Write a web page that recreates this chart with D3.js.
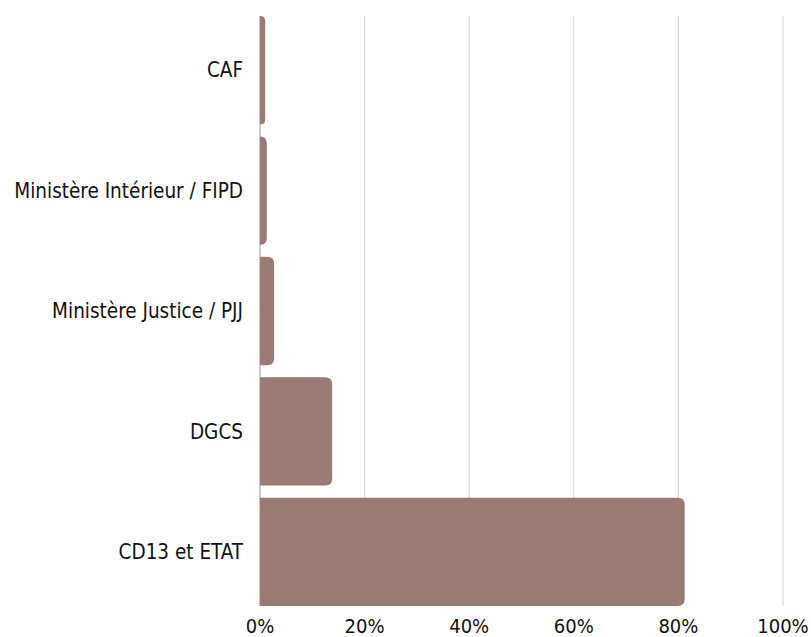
<!DOCTYPE html>
<html>
<head>
<meta charset="utf-8">
<script src="https://cdn.jsdelivr.net/npm/d3@7"></script>
<style>
  body { margin: 0; background: #fff; }
  text { font-family: "DejaVu Sans Condensed", "Liberation Sans Narrow", sans-serif; }
</style>
</head>
<body>
<div id="chart"></div>
<script>
// data
var categories = ["CAF", "Ministère Intérieur / FIPD", "Ministère Justice / PJJ", "DGCS", "CD13 et ETAT"]
var shares = [1.0, 1.3, 2.7, 13.8, 81.2]
var tickValues = [0, 20, 40, 60, 80, 100]

var width = 811,
    height = 637,
    margin = {top: 16, right: 28, bottom: 31, left: 260}

var svg = d3.select("#chart")
  .append("svg")
    .attr("width", width)
    .attr("height", height)

var x = d3.scaleLinear()
    .domain([0, 100])
    .range([margin.left, width - margin.right])

var y = d3.scaleBand()
    .domain(categories)
    .range([margin.top, height - margin.bottom])
    .paddingInner(0.1)
    .paddingOuter(0)

// gridlines
svg.append("g")
  .selectAll("line")
  .data(tickValues.slice(1))
  .enter()
  .append("line")
    .attr("x1", d => x(d))
    .attr("x2", d => x(d))
    .attr("y1", margin.top)
    .attr("y2", height - margin.bottom)
    .attr("stroke", "#d0d0d0")
    .attr("stroke-width", 1)

// axis line on the left
svg.append("line")
    .attr("x1", x(0))
    .attr("x2", x(0))
    .attr("y1", margin.top)
    .attr("y2", height - margin.bottom)
    .attr("stroke", "#bdbdbd")
    .attr("stroke-width", 1.5)

// bar with rounded right corners
function barPath(x0, y0, w, h, r) {
  r = Math.min(r, w, h / 2)
  return "M" + x0 + "," + y0 +
    "H" + (x0 + w - r) +
    "Q" + (x0 + w) + "," + y0 + " " + (x0 + w) + "," + (y0 + r) +
    "V" + (y0 + h - r) +
    "Q" + (x0 + w) + "," + (y0 + h) + " " + (x0 + w - r) + "," + (y0 + h) +
    "H" + x0 + "Z"
}

svg.append("g")
  .selectAll("path")
  .data(categories)
  .enter()
  .append("path")
    .attr("d", (d, i) => barPath(x(0), y(d), x(shares[i]) - x(0), y.bandwidth(), 7))
    .attr("fill", "#9a7a74")

// category labels
svg.append("g")
  .selectAll("text")
  .data(categories)
  .enter()
  .append("text")
    .attr("x", x(0) - 17)
    .attr("y", d => y(d) + y.bandwidth() / 2)
    .attr("dy", "0.35em")
    .attr("text-anchor", "end")
    .style("font-size", "20.5px")
    .attr("fill", "#111")
    .text(d => d)

// x axis tick labels
svg.append("g")
  .selectAll("text")
  .data(tickValues)
  .enter()
  .append("text")
    .attr("x", d => x(d))
    .attr("y", height - 4)
    .attr("text-anchor", "middle")
    .style("font-size", "20px")
    .attr("fill", "#111")
    .text(d => d + "%")
</script>
</body>
</html>
